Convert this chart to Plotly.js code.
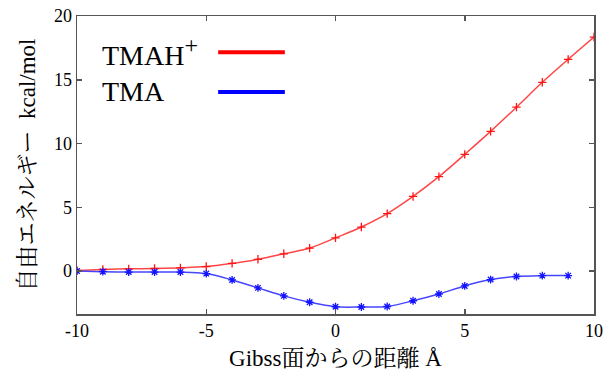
<!DOCTYPE html>
<html>
<head>
<meta charset="utf-8">
<script src="https://cdn.plot.ly/plotly-3.0.1.min.js"></script>
<style>html,body{margin:0;padding:0;background:#fff;}#chart{width:609px;height:376px;}</style>
</head>
<body>
<div id="chart"></div>
<script>
const distance = [-10,-9,-8,-7,-6,-5,-4,-3,-2,-1,0,1,2,3,4,5,6,7,8,9,10];
const tmahEnergy = [0.05,0.12,0.17,0.2,0.25,0.35,0.6,0.92,1.35,1.8,2.6,3.45,4.5,5.85,7.4,9.15,10.95,12.85,14.8,16.6,18.35];
const tmaDistance = [-10,-9,-8,-7,-6,-5,-4,-3,-2,-1,0,1,2,3,4,5,6,7,8,9];
const tmaEnergy = [0,-0.05,-0.08,-0.08,-0.08,-0.2,-0.7,-1.32,-1.95,-2.45,-2.8,-2.82,-2.78,-2.33,-1.8,-1.17,-0.67,-0.43,-0.36,-0.36];
const seriesNames = ["TMAH<sup><span style=\"font-size:24px\">+</span></sup>", "TMA"];
const xTicks = [-10,-5,0,5,10];
const yTicks = [0,5,10,15,20];

const serif = "'Liberation Serif', 'Noto Serif CJK JP', 'Noto Sans CJK JP', serif";

const traces = [
  {x: distance, y: tmahEnergy, mode: "lines+markers", name: "TMAH+",
   line: {color: "rgb(255,70,70)", width: 1.5, shape: "spline"},
   marker: {symbol: "cross-thin-open", size: 6, color: "rgb(255,20,20)", line: {width: 1.3, color: "rgb(255,20,20)"}},
   showlegend: false},
  {x: tmaDistance, y: tmaEnergy, mode: "lines+markers", name: "TMA",
   line: {color: "rgb(70,70,255)", width: 1.5, shape: "spline"},
   marker: {symbol: "asterisk-open", size: 6.5, color: "rgb(20,20,255)", line: {width: 1.3, color: "rgb(20,20,255)"}},
   showlegend: false}
];

const axisCommon = {
  showgrid: false, zeroline: false, showline: true, mirror: "ticks",
  linecolor: "#555", linewidth: 1.5, ticks: "inside", ticklen: 5, tickwidth: 1.5, tickcolor: "#555",
  tickfont: {family: serif, size: 18, color: "#000"}
};

const layout = {
  width: 609, height: 376,
  margin: {l: 77, r: 15, t: 16, b: 62},
  paper_bgcolor: "#fff", plot_bgcolor: "#fff",
  xaxis: Object.assign({}, axisCommon, {range: [-10, 10], tickvals: xTicks, ticktext: xTicks.map(String),
    title: {text: "Gibss面からの距離 Å", font: {family: serif, size: 23, color: "#000"}, standoff: 10}}),
  yaxis: Object.assign({}, axisCommon, {range: [-3.37, 20], tickvals: yTicks, ticktext: yTicks.map(String),
    title: {text: "自由エネルギー  kcal/mol", font: {family: serif, size: 23, color: "#000"}, standoff: 12}}),
  annotations: [
    {xref: "paper", yref: "paper", x: 0.045, y: 0.882, xanchor: "left", yanchor: "middle", showarrow: false,
     text: seriesNames[0], font: {family: serif, size: 28, color: "#000"}},
    {xref: "paper", yref: "paper", x: 0.045, y: 0.745, xanchor: "left", yanchor: "middle", showarrow: false,
     text: seriesNames[1], font: {family: serif, size: 28, color: "#000"}}
  ],
  shapes: [
    {type: "line", xref: "paper", yref: "paper", x0: 0.273, x1: 0.402, y0: 0.878, y1: 0.878, line: {color: "#ff0000", width: 4}},
    {type: "line", xref: "paper", yref: "paper", x0: 0.273, x1: 0.402, y0: 0.745, y1: 0.745, line: {color: "#0000ff", width: 4}}
  ]
};

Plotly.newPlot("chart", traces, layout, {displayModeBar: false, staticPlot: true});
</script>
</body>
</html>
